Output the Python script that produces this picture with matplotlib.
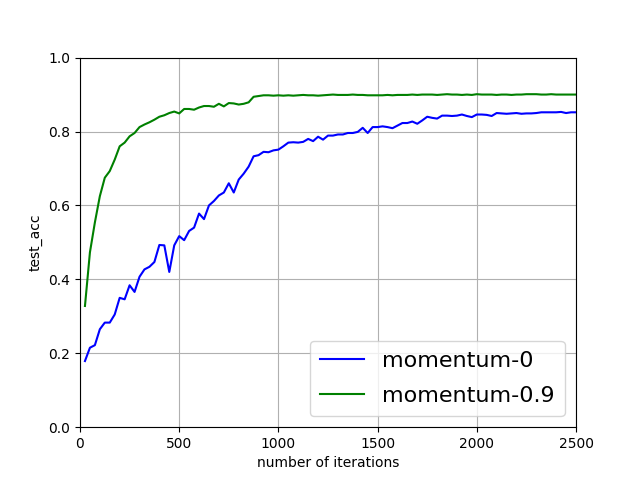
import numpy as np
import matplotlib
matplotlib.use("Agg")
import matplotlib.pyplot as plt

iterations = list(range(25, 2501, 25))

acc_m0 = [0.179, 0.215, 0.222, 0.265, 0.283, 0.283, 0.305, 0.350, 0.346, 0.384,
          0.366, 0.407, 0.427, 0.434, 0.447, 0.493, 0.492, 0.420, 0.492, 0.517,
          0.506, 0.531, 0.540, 0.578, 0.563, 0.600, 0.612, 0.627, 0.635, 0.660,
          0.635, 0.670, 0.686, 0.705, 0.733, 0.736, 0.745, 0.744, 0.749, 0.751,
          0.760, 0.770, 0.771, 0.770, 0.772, 0.780, 0.774, 0.786, 0.778, 0.789,
          0.789, 0.792, 0.792, 0.796, 0.796, 0.799, 0.810, 0.796, 0.812, 0.812,
          0.814, 0.812, 0.809, 0.816, 0.823, 0.823, 0.827, 0.821, 0.830, 0.840,
          0.837, 0.835, 0.843, 0.843, 0.842, 0.843, 0.846, 0.842, 0.839, 0.846,
          0.846, 0.845, 0.842, 0.850, 0.849, 0.848, 0.849, 0.850, 0.848, 0.849,
          0.849, 0.850, 0.852, 0.852, 0.852, 0.852, 0.853, 0.850, 0.852, 0.852]

acc_m09 = [0.328, 0.473, 0.554, 0.625, 0.675, 0.693, 0.724, 0.760, 0.770, 0.787,
           0.796, 0.812, 0.819, 0.825, 0.832, 0.840, 0.844, 0.850, 0.854, 0.849,
           0.861, 0.861, 0.859, 0.865, 0.869, 0.869, 0.867, 0.875, 0.868, 0.877,
           0.876, 0.873, 0.875, 0.879, 0.894, 0.896, 0.898, 0.898, 0.897, 0.898,
           0.897, 0.898, 0.897, 0.898, 0.899, 0.898, 0.898, 0.897, 0.898, 0.899,
           0.900, 0.899, 0.899, 0.899, 0.900, 0.899, 0.899, 0.898, 0.898, 0.898,
           0.898, 0.899, 0.898, 0.899, 0.899, 0.899, 0.900, 0.899, 0.900, 0.900,
           0.900, 0.899, 0.900, 0.901, 0.900, 0.900, 0.899, 0.900, 0.899, 0.901,
           0.900, 0.900, 0.900, 0.899, 0.900, 0.900, 0.899, 0.900, 0.900, 0.901,
           0.901, 0.901, 0.900, 0.900, 0.901, 0.900, 0.900, 0.900, 0.900, 0.900]

plt.figure(figsize=(6.4, 4.8), dpi=100)
plt.plot(iterations, acc_m0, color="blue", label="momentum-0")
plt.plot(iterations, acc_m09, color="green", label="momentum-0.9")
plt.xlim(0, 2500)
plt.ylim(0, 1.0)
plt.xlabel("number of iterations")
plt.ylabel("test_acc")
plt.grid(True)
plt.legend(loc="lower right", fontsize=16, labelspacing=0.68, borderpad=0.45)
plt.savefig("out.png")
